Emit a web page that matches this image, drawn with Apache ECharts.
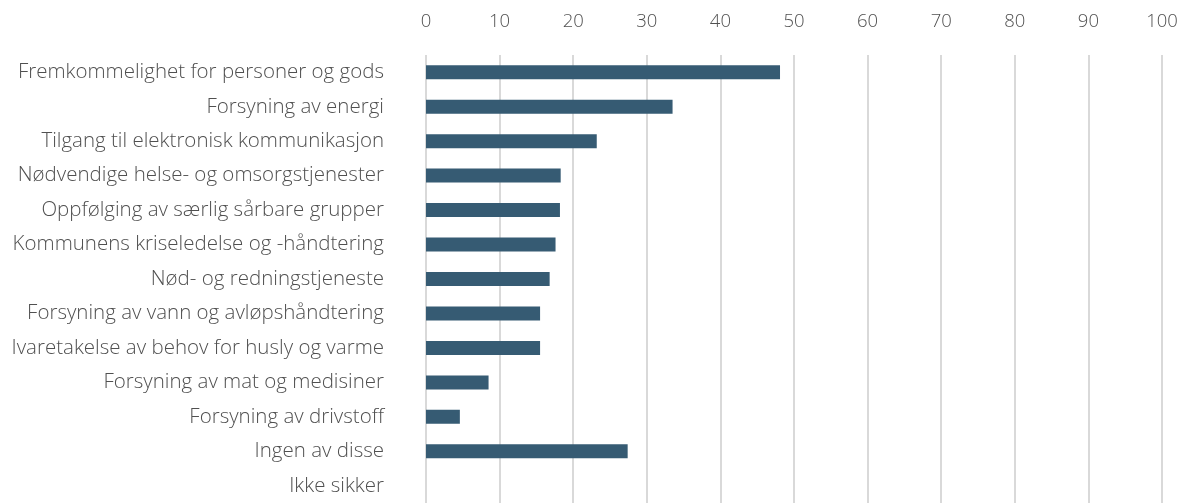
<!DOCTYPE html>
<html>
<head>
<meta charset="utf-8">
<script src="https://cdn.jsdelivr.net/npm/echarts@6/dist/echarts.min.js"></script>
<style>html,body{margin:0;padding:0;background:#fff}#c{width:1186px;height:503px}</style>
</head>
<body>
<div id="c"></div>
<script>
const categories = [
  "Fremkommelighet for personer og gods",
  "Forsyning av energi",
  "Tilgang til elektronisk kommunikasjon",
  "Nødvendige helse- og omsorgstjenester",
  "Oppfølging av særlig sårbare grupper",
  "Kommunens kriseledelse og -håndtering",
  "Nød- og redningstjeneste",
  "Forsyning av vann og avløpshåndtering",
  "Ivaretakelse av behov for husly og varme",
  "Forsyning av mat og medisiner",
  "Forsyning av drivstoff",
  "Ingen av disse",
  "Ikke sikker"
];
const values = [48.1, 33.5, 23.2, 18.3, 18.2, 17.6, 16.8, 15.5, 15.5, 8.5, 4.6, 27.4, 0];
const xTicks = { min: 0, max: 100, interval: 10 };

const chart = echarts.init(document.getElementById('c'), null, { renderer: 'canvas' });
chart.setOption({
  animation: false,
  backgroundColor: '#ffffff',
  textStyle: { fontFamily: 'Open Sans' },
  grid: { left: 426, right: 24, top: 55, bottom: 0, containLabel: false },
  xAxis: {
    type: 'value', position: 'top',
    min: xTicks.min, max: xTicks.max, interval: xTicks.interval,
    axisLine: { show: false }, axisTick: { show: false },
    axisLabel: { color: '#505050', fontSize: 18.5, margin: 24, fontFamily: 'Open Sans', fontWeight: 300 },
    splitLine: { show: true, lineStyle: { color: '#d9d9d9', width: 2 } }
  },
  yAxis: {
    type: 'category', data: categories, inverse: true,
    axisLine: { show: false }, axisTick: { show: false },
    axisLabel: { color: '#505050', fontSize: 20.5, margin: 42, fontFamily: 'Open Sans', fontWeight: 300 }
  },
  series: [{
    type: 'bar', data: values, barWidth: 14,
    itemStyle: { color: '#365b73' }
  }]
});
</script>
</body>
</html>
